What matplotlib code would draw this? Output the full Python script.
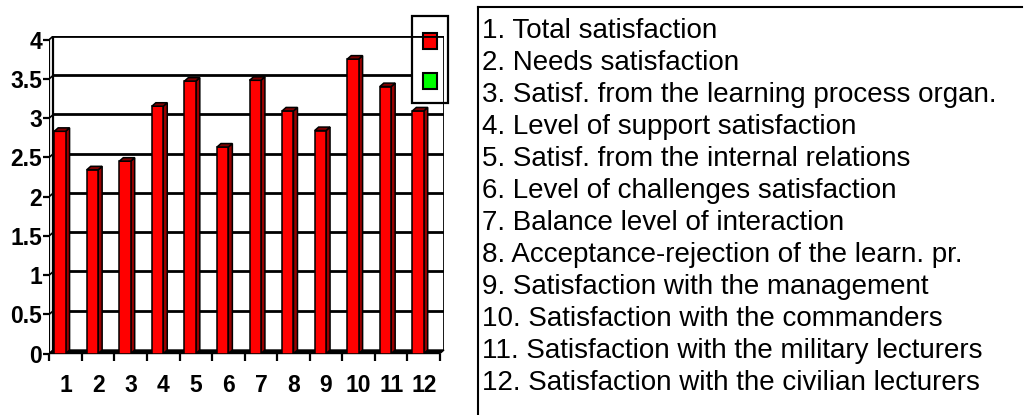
import matplotlib
matplotlib.use("Agg")
import matplotlib.pyplot as plt
from matplotlib.patches import Polygon, Rectangle
from matplotlib.lines import Line2D
import numpy as np

# ---- data ----
categories = ["1", "2", "3", "4", "5", "6", "7", "8", "9", "10", "11", "12"]
values = [2.83, 2.34, 2.45, 3.15, 3.47, 2.63, 3.48, 3.09, 2.84, 3.75, 3.40, 3.09]
y_ticks = [0, 0.5, 1, 1.5, 2, 2.5, 3, 3.5, 4]
y_tick_labels = ["0", "0.5", "1", "1.5", "2", "2.5", "3", "3.5", "4"]
descriptions = [
    "1. Total satisfaction",
    "2. Needs satisfaction",
    "3. Satisf. from the learning process organ.",
    "4. Level of support satisfaction",
    "5. Satisf. from the internal relations",
    "6. Level of challenges satisfaction",
    "7. Balance level of interaction",
    "8. Acceptance-rejection of the learn. pr.",
    "9. Satisfaction with the management",
    "10. Satisfaction with the commanders",
    "11. Satisfaction with the military lecturers",
    "12. Satisfaction with the civilian lecturers",
]

W, H = 1027, 415
fig = plt.figure(figsize=(W / 100, H / 100), dpi=100)
fig.patch.set_facecolor("white")
FONT = ["Liberation Sans", "DejaVu Sans"]

def fx(x):
    return x / W

def fy(y):
    return 1 - y / H

# axes box = front plane (left/bottom) to back wall (right/top)
ax_l, ax_r, ax_t, ax_b = 49.3, 444.0, 36.0, 353.5
ax = fig.add_axes([fx(ax_l), fy(ax_b), fx(ax_r) - fx(ax_l), fy(ax_t) - fy(ax_b)])
n = len(values)
DX = 4.0 / ((ax_r - ax_l) / (n + 0.1228))   # depth offset, x data units
DY = 3.5 / ((ax_b - ax_t) / (4 + 0.0446))   # depth offset, y data units
ax.set_xlim(-DX, n)
ax.set_ylim(-DY, 4)
for s in ax.spines.values():
    s.set_visible(False)
ax.set_facecolor("none")

LW = 2.0
# back-wall gridlines and left-wall slant segments
for g in y_ticks[1:-1]:
    ax.plot([0, n], [g, g], color="black", lw=LW, zorder=1, solid_capstyle="butt")
for g in y_ticks:
    ax.plot([-DX, 0], [g - DY, g], color="black", lw=1.2, zorder=1)
# left wall
ax.plot([-DX, -DX], [-DY, 4 - DY], color="black", lw=1.6, zorder=1)
ax.plot([0, 0], [0, 4], color="black", lw=1.6, zorder=1)
# floor
ax.add_patch(Polygon([(-DX, -DY), (n - DX, -DY), (n, 0), (0, 0)], closed=True,
                     facecolor="black", edgecolor="black", lw=1, zorder=1.5, clip_on=False))
# top and right border of back wall (drawn above legend box)
ax.plot([0, n], [4, 4], color="black", lw=LW, zorder=6, solid_capstyle="butt")
ax.plot([n, n], [0, 4], color="black", lw=LW, zorder=6, solid_capstyle="butt")

# bars (front face + side + top); back-top edge sits at the value
off, bw = 0.15, 0.35
vals = np.array(values)
x_front = np.arange(n) - DX + off
ax.bar(x_front, vals, width=bw, bottom=-DY, align="edge",
       color="#FF0000", edgecolor="black", linewidth=1.1, zorder=3)
for x0, v in zip(x_front, vals):
    x1 = x0 + bw
    ax.add_patch(Polygon([(x1, -DY), (x1 + DX, 0), (x1 + DX, v), (x1, v - DY)],
                         closed=True, facecolor="#990000", edgecolor="black", lw=1.1, zorder=2.9))
    ax.add_patch(Polygon([(x0, v - DY), (x0 + DX, v), (x1 + DX, v), (x1, v - DY)],
                         closed=True, facecolor="#800000", edgecolor="black", lw=1.1, zorder=3.1))

# ticks
ax.set_xticks(np.arange(n + 1) - DX)
ax.set_xticklabels([])
ax.set_xticks(np.arange(n) + 0.5 - DX, minor=True)
ax.set_xticklabels(categories, minor=True, fontsize=16.5, fontweight="bold", family=FONT)
ax.tick_params(axis="x", which="major", direction="out", length=5, width=1.6, color="black")
ax.tick_params(axis="x", which="minor", length=0, pad=15)
ax.set_yticks(np.array(y_ticks) - DY)
ax.set_yticklabels(y_tick_labels, fontsize=16.5, fontweight="bold", family=FONT)
ax.tick_params(axis="y", direction="out", length=4.5, width=1.6, pad=0.5)

# legend box (no labels, as in the reference)
def pxrect(x0, y0, x1, y1, **kw):
    r = Rectangle((fx(x0), fy(y1)), fx(x1) - fx(x0), fy(y0) - fy(y1),
                  transform=fig.transFigure, clip_on=False, **kw)
    ax.add_patch(r)

pxrect(412, 16, 448, 103, facecolor="white", edgecolor="black", lw=1.6, zorder=5)
pxrect(423, 33, 437, 49, facecolor="#FF0000", edgecolor="black", lw=1.5, zorder=5.5)
pxrect(423, 73, 437, 89, facecolor="#00FF00", edgecolor="black", lw=1.5, zorder=5.5)

# description panel
fig.add_artist(Line2D([fx(478), fx(1022)], [fy(7), fy(7)], color="black", lw=1.5))
fig.add_artist(Line2D([fx(478), fx(478)], [fy(7), fy(415)], color="black", lw=1.5))
for k, txt in enumerate(descriptions):
    fig.text(fx(482), fy(38 + 32.0 * k), txt, fontsize=20, family=FONT,
             va="baseline", ha="left", color="black")

fig.savefig("out.png", dpi=100, facecolor="white")
